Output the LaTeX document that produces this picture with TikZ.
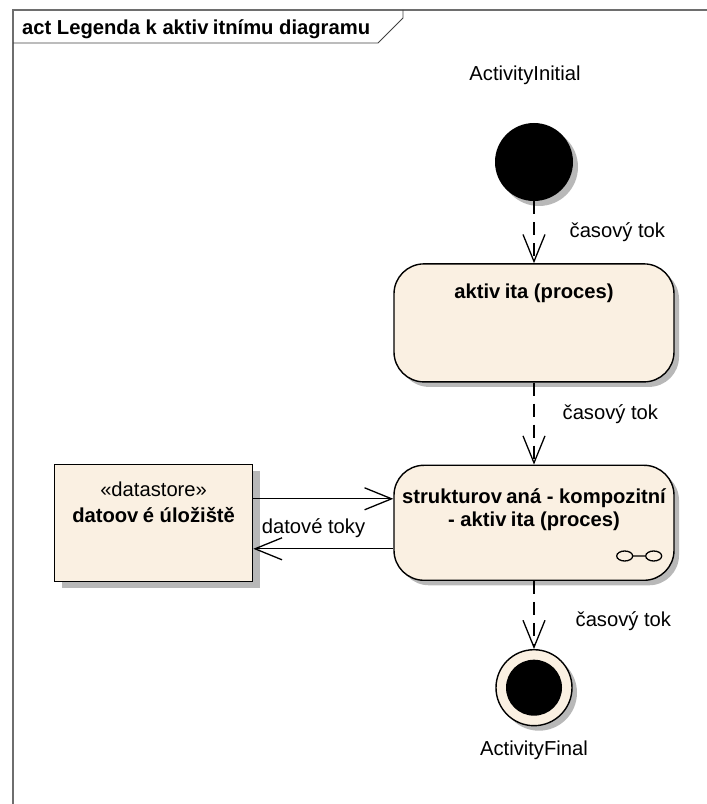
\documentclass[tikz,border=0pt]{standalone}
\usepackage{fontspec}
\setmainfont{Liberation Sans}
\usetikzlibrary{shadows, arrows.meta, positioning, calc}
\definecolor{umlfill}{RGB}{250,240,226}
\definecolor{framegray}{RGB}{110,110,110}
\newcommand{\vgap}{\kern0.22em}

\begin{document}
\begin{tikzpicture}[x=1pt, y=1pt,
        font=\fontsize{20.2}{23}\selectfont,
        shadowed/.style={drop shadow={shadow xshift=5pt, shadow yshift=-5pt, fill=black!28, opacity=1}},
        box/.style={draw, line width=1.4pt, fill=umlfill},
        actbox/.style={box, shadowed, rounded corners=30pt, minimum width=280pt},
        bold/.style={font=\fontsize{20.2}{23}\selectfont\bfseries},
        lbl/.style={inner sep=0pt},
        flow/.style={line width=1.3pt, -{Straight Barb[length=27pt, width=22pt]}},
        timeflow/.style={flow, dash pattern=on 13pt off 8pt}]
        \useasboundingbox (0,0) rectangle (707,804);
        % frame
        \draw[framegray, line width=1.6pt] (13,0) -- (13,794) -- (707,794);
        \node[bold, lbl, anchor=west] (title) at (22,775) {act Legenda k aktiv\vgap itnímu diagramu};
        \draw[black!75, line width=0.8pt] (13,761) -- (378,761) -- (403,786) -- (403,794);

        \node[circle, fill=black, minimum size=78pt, shadowed] (init) at (534,642) {};
        \node[lbl] (initlbl) at (525,729) {ActivityInitial};

        \node[actbox, minimum height=118pt, below=62pt of init] (act) {};
        \node[bold, lbl] (actlbl) at ([yshift=-30pt]act.north) {aktiv\vgap ita (proces)};

        \node[actbox, minimum height=115pt, below=82pt of act] (comp) {};
        \node[bold, lbl, align=center] (complbl) at ([yshift=-45.5pt]comp.north) {strukturov\vgap aná - kompozitní\\- aktiv\vgap ita (proces)};
        \draw[line width=1.3pt] ([xshift=-50pt, yshift=25pt]comp.south east) ellipse (8pt and 5pt)
            ([xshift=-42pt, yshift=25pt]comp.south east) -- ([xshift=-29pt, yshift=25pt]comp.south east)
            ([xshift=-21pt, yshift=25pt]comp.south east) ellipse (8pt and 5pt);

        \node[box, drop shadow={shadow xshift=7pt, shadow yshift=-7pt, fill=black!28, opacity=1},
            minimum width=198pt, minimum height=117pt, left=140pt of comp] (ds) {};
        \node[lbl, align=center, font=\fontsize{20.2}{26}\selectfont] (dslbl) at ([yshift=-39pt]ds.north) {«datastore»\\\textbf{datoov\vgap é úložiště}};

        \node[box, circle, shadowed, minimum size=76pt, below=68pt of comp] (fin) {};
        \node[circle, fill=black, minimum size=56pt] (finin) at (fin) {};
        \node[lbl] (finlbl) at ([yshift=-63pt]fin.center) {ActivityFinal};

        \draw[timeflow] (init) -- node[lbl, pos=0.5, right=35pt] {časový tok} (act);
        \draw[timeflow] (act) -- node[lbl, pos=0.38, right=28pt] {časový tok} (comp);
        \draw[timeflow] (comp) -- node[lbl, pos=0.59, right=41pt] {časový tok} (fin);
        \draw[flow] ([yshift=24pt]ds.east) -- ([yshift=24pt]comp.west);
        \draw[flow] ([yshift=-26pt]comp.west) -- node[lbl, pos=0.57, above=10pt] {datové toky} ([yshift=-26pt]ds.east);
\end{tikzpicture}
\end{document}
